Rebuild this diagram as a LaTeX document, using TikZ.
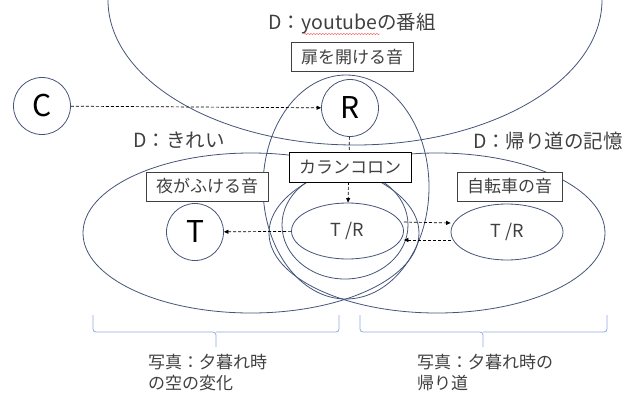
\documentclass[tikz,border=0pt]{standalone}
\usepackage{fontspec}
\setmainfont{Noto Sans CJK JP}
\usetikzlibrary{shapes.geometric,arrows.meta,decorations.pathmorphing}
\definecolor{elc}{RGB}{68,84,122}
\definecolor{txt}{RGB}{64,64,64}
\definecolor{brc}{RGB}{143,170,220}
\begin{document}
\begin{tikzpicture}[x=1pt,y=-1pt,
  ell/.style={draw=elc,line width=0.8pt},
  lbl/.style={text=txt,font=\fontsize{17}{21}\selectfont,inner sep=0pt},
  dlbl/.style={text=txt,font=\fontsize{19.5}{22}\selectfont,inner sep=0pt},
  bx/.style={draw=txt,fill=white,line width=0.8pt,text=txt,font=\fontsize{17}{20}\selectfont,minimum height=29pt,inner sep=0pt},
  letter/.style={circle,draw=elc,line width=0.8pt,minimum size=57pt,inner sep=0pt,font=\fontsize{30}{30}\selectfont},
  trnode/.style={ellipse,draw=elc,line width=0.8pt,minimum width=112pt,minimum height=56pt,inner sep=0pt,text=txt,font=\fontsize{18}{18}\selectfont},
  conn/.style={draw=black,line width=0.7pt,dash pattern=on 3pt off 2pt,-{Triangle[length=4.5pt,width=4pt]}},
  brace/.style={draw=brc,line width=0.8pt,rounded corners=3pt}]
\useasboundingbox (0,0) rectangle (641,397);
% container ellipses
\draw[ell] (355,0) ellipse [x radius=247pt, y radius=145pt];
\draw[ell] (346,187) ellipse [x radius=83pt, y radius=112pt];
\draw[ell] (251,233) ellipse [x radius=168pt, y radius=80pt];
\draw[ell] (437,233) ellipse [x radius=168pt, y radius=80pt];
\draw[ell] (345,225) ellipse [x radius=63pt, y radius=54pt];
% labels
\node[dlbl] (dyt) at (352,24) {D：youtubeの番組};
\draw[red!70,line width=0.4pt,decorate,decoration={snake,segment length=3pt,amplitude=0.6pt}] (304,34) -- (380,34);
\node[dlbl] (dkirei) at (179,140) {D：きれい};
\node[dlbl] (dkaeri) at (548,141) {D：帰り道の記憶};
% circles and ellipse nodes
\node[letter] (c) at (42,106) {C};
\node[letter] (r) at (350,108) {R};
\node[letter] (t) at (195,232) {T};
\node[trnode] (tr) at (347.5,231) {T /R};
\node[trnode] (tr2) at (507,232) {T /R};
% connectors
\draw[conn] (c) -- (r);
\draw[conn] (r) -- (tr);
\draw[conn] (tr) -- (t);
\draw[conn] ([yshift=9pt]tr.east) -- ([yshift=9pt]tr2.west);
\draw[conn] ([yshift=-8pt]tr2.west) -- ([yshift=-9pt]tr.east);
% boxes
\node[bx,minimum width=122pt] (tobira) at (352,57) {扉を開ける音};
\node[bx,draw=black,minimum width=122pt,minimum height=30pt] (karan) at (350,167) {カランコロン};
\node[bx,minimum width=122pt] (yoru) at (207,186.5) {夜がふける音};
\node[bx,minimum width=105pt] (jiten) at (509.5,186.5) {自転車の音};
% braces
\draw[brace] (93,315) -- (93,332) -- (216,332) -- (216,347);
\draw[brace] (216,332) -- (339,332) -- (339,315);
\draw[brace] (360,315) -- (360,332) -- (483,332) -- (483,347);
\draw[brace] (483,332) -- (607,332) -- (607,315);
% bottom captions
\node[lbl,anchor=west,align=left] (capl) at (148,373) {写真：夕暮れ時\\の空の変化};
\node[lbl,anchor=west,align=left] (capr) at (417,373) {写真：夕暮れ時の\\帰り道};
\end{tikzpicture}
\end{document}
